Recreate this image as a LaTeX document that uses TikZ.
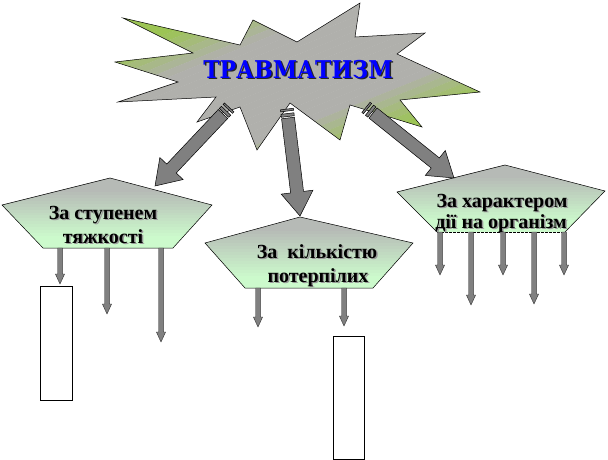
\documentclass[tikz,border=0pt]{standalone}
\usepackage{fontspec}
\newfontfamily\lblfont{Liberation Serif}
\newfontfamily\titlefont{DejaVu Serif}
\usetikzlibrary{calc}
\definecolor{stargreen}{RGB}{156,196,84}
\definecolor{stargray}{RGB}{176,176,172}
\definecolor{pentgray}{RGB}{182,186,182}
\definecolor{pentgreen}{RGB}{204,250,204}
\definecolor{arrgray}{RGB}{128,128,128}
\definecolor{titleblue}{RGB}{0,0,255}
\newcommand\blockarr[7]{%
  \pgfmathanglebetweenpoints{\pgfpointanchor{#4}{center}}{\pgfpointanchor{#5}{center}}%
  \let\baAng\pgfmathresult
  \pgfpointdiff{\pgfpointanchor{#4}{center}}{\pgfpointanchor{#5}{center}}%
  \pgfgetlastxy\baDx\baDy
  \pgfmathveclen{\baDx}{\baDy}\let\baLen\pgfmathresult
  \begin{scope}[shift={(#4)}, rotate=\baAng, x=1pt, y=1pt]
    \draw[#6] (0,-#1) -- (\baLen-#3,-#1) -- (\baLen-#3,-#2) -- (\baLen,0) -- (\baLen-#3,#2) -- (\baLen-#3,#1) -- (0,#1) -- cycle;
    #7
  \end{scope}}
\newcommand\bigarr[2]{\blockarr{6.5}{16}{24}{#1}{#2}{bigarrow}{\draw[bigarrow] (-4.5,-6.5) rectangle (-1.5,6.5) (-9,-6.5) rectangle (-7,6.5);}}
\newcommand\smallarr[2]{\blockarr{2.3}{4.6}{10}{#1}{#2}{smallarrow}{}}
% vertical gradient fill of a clipped region: #1 top y, #2 bottom y
\newcommand\vgrad[2]{%
  \foreach \k in {0,...,23}{%
    \pgfmathsetmacro\gp{min(100,max(0,(\k-4)*100/16))}%
    \fill[pentgreen!\gp!pentgray] (0,{#1+(#2-#1)*\k/24-0.5}) rectangle (608,{#1+(#2-#1)*(\k+1)/24+0.5});
  }}
\begin{document}
\begin{tikzpicture}[x=1pt,y=-1pt,
  bigarrow/.style={fill=arrgray, draw=black, line width=0.5pt},
  smallarrow/.style={fill=arrgray, draw=black!80, line width=0.4pt},
  pentline/.style={draw=black, line width=0.5pt},
  lbl/.style={font=\lblfont\bfseries\fontsize{20}{24}\selectfont, text=black, inner sep=0pt, anchor=base},
  lblshadow/.style={lbl, text=black!40},
  ttl/.style={font=\titlefont\bfseries\fontsize{24.5}{26}\selectfont, inner sep=0pt, anchor=base},
  box/.style={draw=black, line width=0.5pt, fill=white, inner sep=0pt}]
\useasboundingbox (0,0) rectangle (608,460);
\fill[white] (0,0) rectangle (608,460);

% star
\def\starpath{(123,18) -- (193,53) -- (115,62) -- (178,82) -- (118,102) -- (216,97) -- (197,122)
  -- (240,107) -- (257,150) -- (290,103) -- (340,140) -- (350,105) -- (422,127)
  -- (400,100) -- (480,92) -- (397,54) -- (425,33) -- (355,37) -- (360,3)
  -- (297,42) -- (253,20) -- (240,45) -- cycle}
\begin{scope}
  \clip \starpath;
  \begin{scope}[shift={(115,3)}, x={(365pt,0pt)}, y={(0pt,-147pt)}]
    \foreach \k in {0,...,43}{%
      \pgfmathsetmacro\ss{-0.1+\k*0.05}%
      \pgfmathsetmacro\gp{100*(max(0,min(1,(0.62-\ss)/0.3))+max(0,min(1,(\ss-1.3)/0.3)))}%
      \fill[stargreen!\gp!stargray] (\ss+1.5,-1.5) -- (\ss-1.5,1.5) -- (\ss+0.052-1.5,1.5) -- (\ss+0.052+1.5,-1.5) -- cycle;
    }
  \end{scope}
\end{scope}
\draw[black, line width=0.5pt] \starpath;
\node[ttl, text=black!85] (titles) at (299.5,79.5) {\scalebox{0.9}[1]{ТРАВМАТИЗМ}};
\node[ttl, text=titleblue] (title) at (298,78) {\scalebox{0.9}[1]{ТРАВМАТИЗМ}};

% pentagons
\def\pentA{(2,205) -- (110,178) -- (212,205) -- (173,248) -- (43,248) -- cycle}
\def\pentB{(205,243) -- (300,217) -- (413,243) -- (373,288) -- (245,288) -- cycle}
\def\pentC{(397,192) -- (505,165) -- (605,191) -- (565,232) -- (437,232) -- cycle}
\begin{scope}\clip \pentA; \vgrad{178}{248} \end{scope}
\draw[pentline] \pentA;
\begin{scope}\clip \pentB; \vgrad{217}{288} \end{scope}
\draw[pentline] \pentB;
\begin{scope}\clip \pentC; \vgrad{165}{232} \end{scope}
\draw[pentline] (437,232) -- (397,192) -- (505,165) -- (605,191) -- (565,232);
\draw[pentline, dash pattern=on 2.5pt off 1.5pt] (437,232) -- (565,232);

% big arrows
\coordinate (sL) at (223,114);
\coordinate (sM) at (288,118);
\coordinate (sR) at (373,113);
\coordinate (pL) at (155,186);
\coordinate (pM) at (300,216);
\coordinate (pR) at (454,178);
\bigarr{sL}{pL}
\bigarr{sM}{pM}
\bigarr{sR}{pR}

% labels
\node[lblshadow] (l1s) at (104.5,220.5) {За ступенем};
\node[lbl] (l1) at (103,219) {За ступенем};
\node[lblshadow] (l2s) at (104.5,244.5) {тяжкості};
\node[lbl] (l2) at (103,243) {тяжкості};
\node[lblshadow] (m1s) at (318.5,259.5) {За~ кількістю};
\node[lbl] (m1) at (317,258) {За~ кількістю};
\node[lblshadow] (m2s) at (319.5,283.5) {потерпілих};
\node[lbl] (m2) at (318,282) {потерпілих};
\node[lblshadow] (r1s) at (503.5,208.5) {За характером};
\node[lbl] (r1) at (502,207) {За характером};
\node[lblshadow] (r2s) at (502.5,229.5) {дії на організм};
\node[lbl] (r2) at (501,228) {дії на організм};

% boxes
\node[box, minimum width=32pt, minimum height=114pt] (bx1) at (56,343) {};
\node[box, minimum width=31pt, minimum height=123pt] (bx2) at (348.5,397.5) {};

% small arrows
\coordinate (a1s) at (60,248);  \coordinate (a1e) at (60,284);
\coordinate (a2s) at (107,248); \coordinate (a2e) at (107,314);
\coordinate (a3s) at (161,248); \coordinate (a3e) at (161,342);
\coordinate (b1s) at (258,288); \coordinate (b1e) at (258,327);
\coordinate (b2s) at (344,288); \coordinate (b2e) at (344,326);
\coordinate (c1s) at (440,232); \coordinate (c1e) at (440,275);
\coordinate (c2s) at (471,232); \coordinate (c2e) at (471,305);
\coordinate (c3s) at (503,232); \coordinate (c3e) at (503,275);
\coordinate (c4s) at (534,232); \coordinate (c4e) at (534,304);
\coordinate (c5s) at (564,232); \coordinate (c5e) at (564,275);
\smallarr{a1s}{a1e}
\smallarr{a2s}{a2e}
\smallarr{a3s}{a3e}
\smallarr{b1s}{b1e}
\smallarr{b2s}{b2e}
\smallarr{c1s}{c1e}
\smallarr{c2s}{c2e}
\smallarr{c3s}{c3e}
\smallarr{c4s}{c4e}
\smallarr{c5s}{c5e}
\end{tikzpicture}
\end{document}
